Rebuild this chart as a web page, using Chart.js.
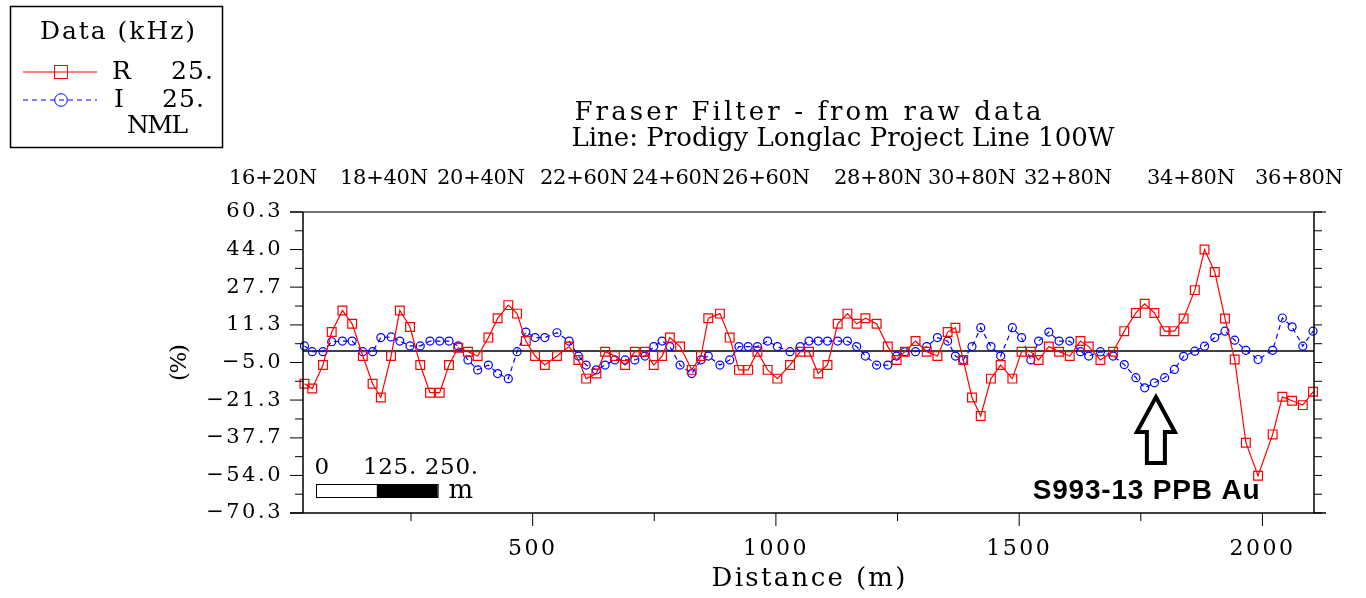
<!DOCTYPE html>
<html>
<head>
<meta charset="utf-8">
<script src="https://cdn.jsdelivr.net/npm/chart.js@4.4.0/dist/chart.umd.min.js"></script>
<style>
  html, body { margin: 0; padding: 0; background: #fff; }
  canvas { display: block; }
</style>
</head>
<body>
<canvas id="fraser" width="1366" height="598"></canvas>
<script>
// station distances along the line (m)
const distance = [
  31, 47, 69, 87, 109, 129, 151, 171, 188, 209,
  227, 248, 269, 289, 309, 328, 347, 367, 387, 409,
  428, 450, 468, 486, 505, 525, 550, 575, 594, 610,
  631, 649, 669, 690, 710, 731, 749, 766, 782, 803,
  827, 846, 861, 885, 905, 924, 943, 962, 983, 1003,
  1029, 1050, 1068, 1087, 1106, 1127, 1147, 1166, 1184, 1207,
  1230, 1248, 1265, 1287, 1310, 1332, 1353, 1369, 1385, 1403,
  1421, 1442, 1462, 1486, 1505, 1524, 1540, 1561, 1582, 1604,
  1626, 1643, 1667, 1693, 1716, 1740, 1758, 1778, 1799, 1819,
  1838, 1861, 1881, 1902, 1923, 1943, 1966, 1991, 2021, 2041,
  2061, 2083, 2104
];

// R 25. (in-phase), %
const realPct = [
  -14.2, -16.3, -6.1, 8.2, 17.6, 11.8, -2.2, -14.2, -20.2, -2.2,
  17.6, 10.4, -6.1, -18.1, -18.1, -6.1, 1.4, -0.3, -2.2, 5.8,
  14.2, 19.9, 16.2, 4.3, -2.2, -6.1, -2.2, 1.9, -3.9, -12.0,
  -9.8, -0.3, -2.2, -6.1, -0.3, -0.3, -6.1, -2.2, 5.8, 1.9,
  -8.2, -2.2, 14.2, 16.2, 5.8, -8.2, -8.2, -0.3, -8.2, -12.0,
  -6.1, -0.3, -0.3, -9.8, -6.1, 11.8, 16.2, 11.8, 14.2, 11.8,
  1.9, -3.9, -0.3, 4.3, -0.3, -2.2, 8.2, 10.1, -3.9, -20.2,
  -28.2, -12.0, -6.1, -12.0, -0.3, -0.3, -3.9, 1.9, -0.3, -2.2,
  4.3, 1.9, -3.9, -0.3, 8.6, 16.5, 20.5, 16.5, 8.6, 8.6,
  14.1, 26.4, 44.0, 34.3, 14.1, -3.7, -39.8, -54.1, -36.2, -19.9,
  -21.6, -23.5, -17.7
];

// I 25. (quadrature), %
const imagPct = [
  2.2, -0.3, -0.3, 4.0, 4.3, 4.3, -0.3, -0.3, 5.8, 6.1,
  4.3, 2.2, 2.2, 4.3, 4.3, 4.3, 2.2, -3.9, -8.2, -6.1,
  -9.8, -12.0, -0.3, 8.2, 5.8, 5.8, 7.9, 4.3, -2.2, -6.1,
  -8.2, -6.1, -3.9, -3.9, -3.9, -2.2, 1.9, 4.3, 1.9, -6.1,
  -9.8, -3.9, -2.2, -6.1, -3.9, 1.9, 1.9, 1.9, 4.3, 1.9,
  -0.3, 1.9, 4.3, 4.3, 4.3, 4.3, 4.3, 1.9, -2.2, -6.1,
  -6.1, -2.2, -0.3, -0.3, 1.9, 5.8, 4.3, -2.2, -3.9, 1.9,
  10.1, 1.9, -2.2, 10.1, 5.8, -3.9, 4.3, 8.2, 4.3, 4.3,
  -0.3, -2.2, -0.3, -2.2, -5.9, -11.6, -16.0, -13.8, -11.6, -8.0,
  -2.3, -0.1, 2.1, 5.8, 8.6, 4.7, 0.3, -3.7, 0.3, 14.3,
  10.5, 2.1, 8.6
];

const yTicks = [60.3, 44.0, 27.7, 11.3, -5.0, -21.3, -37.7, -54.0, -70.3];
const xTicks = [500, 1000, 1500, 2000];
const xMinorTicks = [250, 750, 1250, 1750];
const stationLabels = ['16+20N', '18+40N', '20+40N', '22+60N', '24+60N', '26+60N',
                       '28+80N', '30+80N', '32+80N', '34+80N', '36+80N'];

const SERIF = '"DejaVu Serif", "Liberation Serif", serif';

function fmt(v) {
  return v.toFixed(1).replace('-', '\u2212');
}

// draw text stretched to a given width (the original plot font is very wide)
function fitText(ctx, text, x, y, width, font, align) {
  ctx.save();
  ctx.font = font;
  ctx.letterSpacing = '0px';
  const w0 = ctx.measureText(text).width;
  if (text.length > 1) {
    ctx.letterSpacing = ((width - w0) / (text.length - 1)) + 'px';
  }
  ctx.textAlign = 'left';
  ctx.textBaseline = 'middle';
  ctx.fillStyle = '#000';
  const left = align === 'left' ? x : x - width / 2;
  ctx.fillText(text, left, y);
  ctx.restore();
}

const decor = {
  id: 'decor',
  beforeDraw(chart) {
    // wide tick lettering like the original plot
    chart.ctx.letterSpacing = '2.5px';
  },
  beforeDatasetsDraw(chart) {
    const { ctx, chartArea: a, scales: { y } } = chart;
    ctx.letterSpacing = '0px';
    ctx.save();
    ctx.strokeStyle = '#000';
    ctx.lineWidth = 1.5;
    ctx.beginPath();
    ctx.moveTo(a.left, y.getPixelForValue(0));
    ctx.lineTo(a.right, y.getPixelForValue(0));
    ctx.stroke();
    ctx.restore();
  },
  afterDraw(chart) {
    const { ctx, chartArea: a, scales: { x, y } } = chart;
    ctx.save();

    // frame
    ctx.lineWidth = 1.5;
    ctx.strokeStyle = '#444';
    ctx.beginPath();
    ctx.moveTo(a.left - 13, a.top); ctx.lineTo(a.right + 12, a.top);
    ctx.stroke();
    ctx.strokeStyle = '#000';
    ctx.beginPath();
    ctx.moveTo(a.left - 13, a.bottom); ctx.lineTo(a.right + 12, a.bottom);
    ctx.moveTo(a.left, a.top); ctx.lineTo(a.left, a.bottom);
    ctx.moveTo(a.right, a.top); ctx.lineTo(a.right, a.bottom);
    ctx.stroke();

    // tick marks
    ctx.lineWidth = 1;
    ctx.beginPath();
    yTicks.forEach((v, i) => {
      const py = y.getPixelForValue(v);
      ctx.moveTo(a.left - 13, py); ctx.lineTo(a.left, py);
      ctx.moveTo(a.right, py); ctx.lineTo(a.right + 8, py);
      if (i < yTicks.length - 1) {
        const pm = y.getPixelForValue((v + yTicks[i + 1]) / 2);
        ctx.moveTo(a.left - 8, pm); ctx.lineTo(a.left, pm);
        ctx.moveTo(a.right, pm); ctx.lineTo(a.right + 8, pm);
      }
    });
    xTicks.forEach(v => {
      const px = x.getPixelForValue(v);
      ctx.moveTo(px, a.bottom); ctx.lineTo(px, a.bottom + 13);
    });
    xMinorTicks.forEach(v => {
      const px = x.getPixelForValue(v);
      ctx.moveTo(px, a.bottom); ctx.lineTo(px, a.bottom + 8);
    });
    ctx.stroke();

    // titles
    fitText(ctx, 'Fraser Filter - from raw data', 808, 113, 467, '26px ' + SERIF);
    fitText(ctx, 'Line: Prodigy Longlac Project Line 100W', 843, 139, 543, '26px ' + SERIF);
    const stationX = [273, 384, 481, 584, 676, 766, 878, 972, 1068, 1191, 1299];
    stationLabels.forEach((s, i) => fitText(ctx, s, stationX[i], 179, 88, '21px ' + SERIF));

    // axis titles
    fitText(ctx, 'Distance (m)', (a.left + a.right) / 2, 579, 194, '26px ' + SERIF);
    ctx.save();
    ctx.translate(180, (a.top + a.bottom) / 2);
    ctx.rotate(-Math.PI / 2);
    fitText(ctx, '(%)', 0, 0, 37, '23px ' + SERIF);
    ctx.restore();

    // legend box
    ctx.lineWidth = 1.5;
    ctx.strokeStyle = '#000';
    ctx.strokeRect(10.5, 6.5, 212, 141);
    fitText(ctx, 'Data (kHz)', 117.5, 32, 155, '25px ' + SERIF);
    ctx.lineWidth = 1;
    ctx.strokeStyle = '#ff0000';
    ctx.beginPath(); ctx.moveTo(23, 72); ctx.lineTo(97, 72); ctx.stroke();
    ctx.strokeRect(54.5, 65.5, 13, 13);
    ctx.strokeStyle = '#0000ff';
    ctx.setLineDash([5, 4]);
    ctx.beginPath(); ctx.moveTo(23, 100); ctx.lineTo(97, 100); ctx.stroke();
    ctx.setLineDash([]);
    ctx.beginPath(); ctx.arc(61, 100, 6.3, 0, Math.PI * 2); ctx.stroke();
    fitText(ctx, 'R', 112, 72, 20, '25px ' + SERIF, 'left');
    fitText(ctx, '25.', 171, 72, 42, '25px ' + SERIF, 'left');
    fitText(ctx, 'I', 114, 100, 10, '25px ' + SERIF, 'left');
    fitText(ctx, '25.', 162, 100, 42, '25px ' + SERIF, 'left');
    fitText(ctx, 'NML', 127, 126, 61, '25px ' + SERIF, 'left');

    // scale bar (250 m)
    const barLeft = 316;
    const barLen = x.getPixelForValue(250) - x.getPixelForValue(0);
    ctx.fillStyle = '#fff';
    ctx.fillRect(barLeft, 484, barLen / 2, 13);
    ctx.fillStyle = '#000';
    ctx.fillRect(barLeft + barLen / 2, 484, barLen / 2, 13);
    ctx.strokeStyle = '#000';
    ctx.lineWidth = 1;
    ctx.strokeRect(barLeft + 0.5, 484.5, barLen, 13);
    fitText(ctx, '0', 321, 468, 13, '23px ' + SERIF);
    fitText(ctx, '125. 250.', 420.5, 468, 115, '23px ' + SERIF);
    fitText(ctx, 'm', 462.5, 491, 28, '26px ' + SERIF);

    // arrow + sample label
    const ax = x.getPixelForValue(1781);
    const tip = y.getPixelForValue(-20.0);
    const base = y.getPixelForValue(-35.2);
    const foot = y.getPixelForValue(-48.6);
    ctx.beginPath();
    ctx.moveTo(ax, tip);
    ctx.lineTo(ax + 19, base);
    ctx.lineTo(ax + 9, base);
    ctx.lineTo(ax + 9, foot);
    ctx.lineTo(ax - 9, foot);
    ctx.lineTo(ax - 9, base);
    ctx.lineTo(ax - 19, base);
    ctx.closePath();
    ctx.fillStyle = '#fff';
    ctx.fill();
    ctx.lineWidth = 4;
    ctx.lineJoin = 'miter';
    ctx.strokeStyle = '#000';
    ctx.stroke();
    fitText(ctx, 'S993-13 PPB Au', x.getPixelForValue(1761), y.getPixelForValue(-60.8), 227,
            '900 28px "Liberation Sans", Arial, sans-serif');

    ctx.restore();
  }
};

new Chart(document.getElementById('fraser'), {
  type: 'line',
  data: {
    datasets: [
      {
        label: 'R 25.',
        data: distance.map((d, i) => ({ x: d, y: realPct[i] })),
        borderColor: '#ff0000',
        borderWidth: 1.2,
        pointStyle: 'rect',
        pointRadius: 6.2,
        pointBorderColor: '#ff0000',
        pointBackgroundColor: 'rgba(0,0,0,0)',
        pointBorderWidth: 1.2,
        tension: 0,
        fill: false,
        clip: false
      },
      {
        label: 'I 25.',
        data: distance.map((d, i) => ({ x: d, y: imagPct[i] })),
        borderColor: '#0000ff',
        borderWidth: 1.2,
        borderDash: [5, 4],
        pointStyle: 'circle',
        pointRadius: 4,
        pointBorderColor: '#0000ff',
        pointBackgroundColor: 'rgba(0,0,0,0)',
        pointBorderWidth: 1.2,
        tension: 0,
        fill: false,
        clip: false
      }
    ]
  },
  options: {
    responsive: false,
    animation: false,
    events: [],
    devicePixelRatio: 1,
    layout: { padding: { left: 0, right: 52, top: 212, bottom: 0 } },
    plugins: { legend: { display: false }, tooltip: { enabled: false }, title: { display: false } },
    scales: {
      x: {
        type: 'linear',
        min: 28,
        max: 2106,
        afterFit: s => { s.height = 85; },
        afterBuildTicks: s => { s.ticks = xTicks.map(v => ({ value: v })); },
        grid: { display: false, drawTicks: false },
        border: { display: false },
        ticks: {
          autoSkip: false,
          maxRotation: 0,
          padding: 23,
          color: '#000',
          font: { family: SERIF, size: 22 },
          callback: v => String(v)
        }
      },
      y: {
        type: 'linear',
        min: -70.3,
        max: 60.3,
        afterFit: s => { s.width = 303; },
        afterBuildTicks: s => { s.ticks = yTicks.map(v => ({ value: v })); },
        grid: { display: false, drawTicks: false },
        border: { display: false },
        ticks: {
          autoSkip: false,
          padding: 20,
          color: '#000',
          font: { family: SERIF, size: 21 },
          callback: v => fmt(v)
        }
      }
    }
  },
  plugins: [decor]
});
</script>
</body>
</html>
